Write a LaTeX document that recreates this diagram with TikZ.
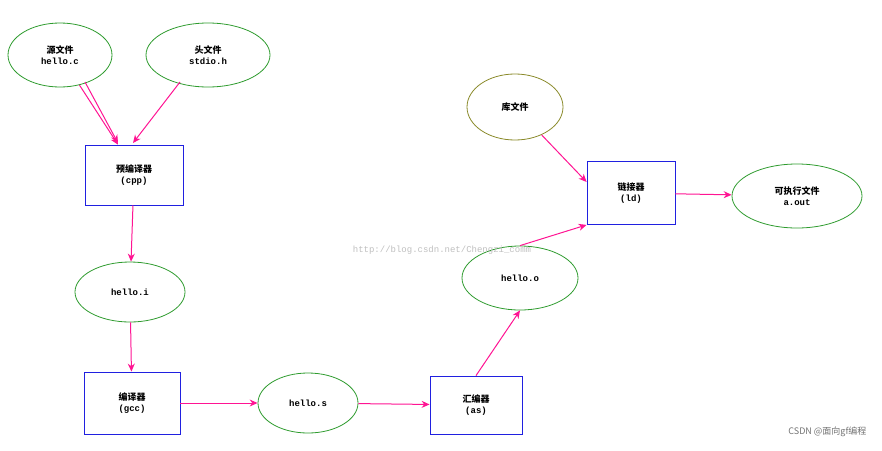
\documentclass[tikz,border=0pt]{standalone}
\usepackage{fontspec}
\setmonofont{Liberation Mono}
\newfontfamily\cjk{Noto Sans CJK SC}
\usetikzlibrary{shapes.geometric,arrows.meta}
\definecolor{pk}{HTML}{FF1493}
\definecolor{gr}{HTML}{2E9B2E}
\definecolor{bl}{HTML}{2020E0}
\definecolor{ol}{HTML}{8A8A2A}
\tikzset{
 el/.style={ellipse,draw=gr,line width=0.8pt,minimum width=#1,align=center,font=\ttfamily\bfseries\small,inner sep=0pt},
 bx/.style={rectangle,draw=bl,line width=0.8pt,align=center,font=\ttfamily\bfseries\small},
 ar/.style={-{Stealth[length=8pt,width=7pt]},pk,line width=1pt}
}
\begin{document}
\begin{tikzpicture}[x=1pt,y=-1pt]
\useasboundingbox (0,0) rectangle (882,450);
\node[el=104pt,minimum height=64pt] (src) at (60,55) {{\cjk\bfseries 源文件}\\hello.c};
\node[el=124pt,minimum height=64pt] (hdr) at (208,55) {{\cjk\bfseries 头文件}\\stdio.h};
\node[bx,minimum width=98pt,minimum height=60pt] (cpp) at (134,175) {{\cjk\bfseries 预编译器}\\(cpp)};
\node[el=110pt,minimum height=60pt] (hi) at (130,292) {hello.i};
\node[bx,minimum width=96pt,minimum height=62pt] (gcc) at (132,403) {{\cjk\bfseries 编译器}\\(gcc)};
\node[el=100pt,minimum height=60pt] (hs) at (308,403) {hello.s};
\node[bx,minimum width=92pt,minimum height=58pt] (as) at (476,405) {{\cjk\bfseries 汇编器}\\(as)};
\node[el=116pt,minimum height=64pt] (ho) at (520,278) {hello.o};
\node[el=96pt,minimum height=66pt,draw=ol] (lib) at (515,107) {{\cjk\bfseries 库文件}};
\node[bx,minimum width=88pt,minimum height=63pt] (ld) at (631,193) {{\cjk\bfseries 链接器}\\(ld)};
\node[el=130pt,minimum height=64pt] (out) at (797,196) {{\cjk\bfseries 可执行文件}\\a.out};
\node[text=black!25,font=\ttfamily\small] (wm) at (442,250) {http://blog.csdn.net/Chengzi\_comm};
\node[text=black!55,font=\cjk\small,anchor=east] (cs) at (870,432) {CSDN @面向gf编程};
\draw[ar] (src) -- (cpp.north west -| 118,0) ;
\draw[ar] (85,82) -- (118,143);
\draw[ar] (180,82) -- (133,143);
\draw[ar] (cpp) -- (hi);
\draw[ar] (hi) -- (gcc);
\draw[ar] (gcc) -- (hs);
\draw[ar] (hs) -- (as);
\draw[ar] (as.north) -- (ho.south);
\draw[ar] (ho.north) -- (ld.south west);
\draw[ar] (lib) -- (ld.north west |- 0,182);
\draw[ar] (ld) -- (out);
\end{tikzpicture}
\end{document}
